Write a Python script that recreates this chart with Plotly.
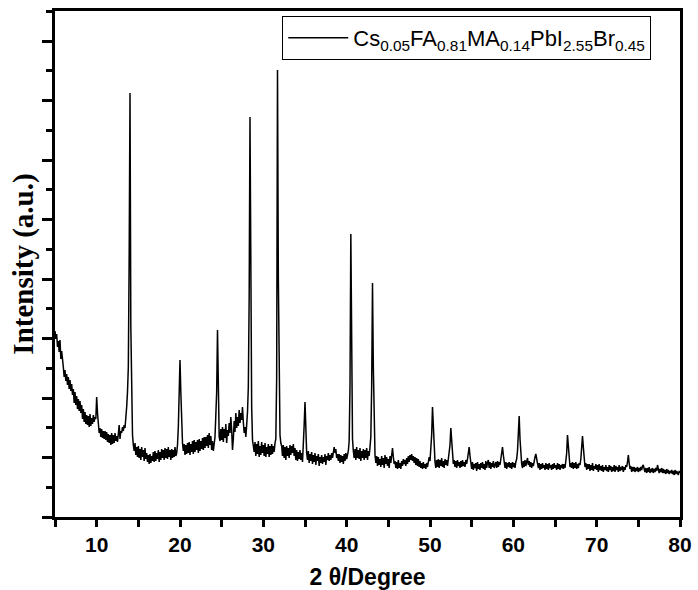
import numpy as np
import plotly.graph_objects as go

# 2-theta scan: 5.0 .. 80.0 deg, step 0.1 deg
two_theta_start = 5.0
two_theta_step = 0.1

# Intensity (a.u.), one row per degree (x.0 .. x.9)
intensity = [
    186, 178, 183, 170, 176, 165, 177, 158, 166, 152,   # 5
    150, 140, 147, 136, 143, 132, 140, 128, 137, 126,   # 6
    133, 122, 128, 114, 125, 112, 121, 108, 118, 106,   # 7
    116, 104, 112, 98, 108, 95, 105, 93, 102, 92,       # 8
    101, 90, 103, 91, 99, 93, 102, 95, 100, 98,         # 9
    120, 104, 90, 84, 89, 80, 88, 79, 86, 78,           # 10
    86, 77, 85, 75, 83, 74, 82, 72, 84, 73,             # 11
    82, 74, 84, 76, 81, 75, 83, 92, 78, 86,             # 12
    84, 90, 86, 92, 89, 97, 110, 125, 150, 260,         # 13
    424, 190, 105, 82, 72, 66, 74, 62, 70, 60,          # 14
    71, 59, 68, 57, 70, 60, 67, 56, 69, 58,             # 15
    64, 55, 62, 53, 63, 54, 61, 56, 65, 55,             # 16
    66, 56, 64, 58, 67, 55, 65, 57, 68, 59,             # 17
    67, 57, 69, 59, 68, 58, 70, 60, 67, 57,             # 18
    68, 59, 67, 60, 70, 61, 64, 72, 90, 120,            # 19
    157, 125, 88, 74, 66, 73, 62, 72, 63, 74,           # 20
    64, 75, 62, 73, 65, 76, 63, 77, 65, 75,             # 21
    67, 77, 64, 78, 66, 76, 68, 79, 67, 80,             # 22
    69, 80, 71, 82, 69, 84, 72, 81, 67, 76,             # 23
    66, 72, 80, 102, 125, 187, 115, 80, 76, 88,         # 24
    77, 90, 75, 88, 79, 93, 74, 87, 81, 94,             # 25
    84, 100, 87, 67, 78, 96, 85, 104, 89, 100,          # 26
    91, 107, 94, 104, 97, 110, 95, 84, 90, 80,          # 27
    92, 105, 130, 220, 400, 210, 110, 77, 72, 65,       # 28
    75, 61, 73, 63, 76, 60, 71, 62, 75, 64,             # 29
    72, 61, 74, 60, 70, 63, 73, 60, 71, 62,             # 30
    73, 63, 71, 65, 74, 78, 140, 447, 240, 100,         # 31
    82, 74, 71, 61, 72, 59, 70, 57, 71, 61,             # 32
    69, 59, 72, 62, 71, 64, 73, 61, 69, 57,             # 33
    67, 56, 65, 58, 67, 57, 64, 55, 70, 92,             # 34
    115, 78, 64, 57, 66, 54, 63, 56, 65, 53,            # 35
    62, 55, 64, 52, 61, 56, 63, 51, 60, 54,             # 36
    62, 53, 60, 55, 63, 52, 61, 57, 64, 56,             # 37
    62, 57, 64, 59, 66, 70, 64, 68, 59, 63,             # 38
    56, 63, 54, 62, 55, 61, 53, 63, 56, 64,             # 39
    58, 62, 66, 76, 130, 283, 160, 78, 66, 59,          # 40
    68, 57, 70, 59, 67, 58, 69, 56, 66, 59,             # 41
    68, 57, 67, 59, 69, 57, 66, 61, 70, 80,             # 42
    130, 234, 150, 74, 62, 54, 61, 51, 60, 52,          # 43
    58, 50, 61, 52, 59, 49, 62, 53, 60, 51,             # 44
    58, 49, 61, 54, 63, 69, 60, 53, 56, 49,             # 45
    55, 48, 57, 49, 54, 48, 56, 51, 58, 53,             # 46
    57, 51, 59, 53, 61, 55, 62, 57, 63, 56,             # 47
    61, 54, 60, 52, 59, 51, 58, 50, 56, 49,             # 48
    54, 48, 55, 49, 53, 48, 54, 50, 55, 60,             # 49
    56, 66, 82, 110, 84, 62, 55, 49, 57, 50,            # 50
    58, 49, 57, 51, 59, 50, 56, 49, 58, 52,             # 51
    57, 51, 58, 62, 72, 89, 74, 60, 53, 57,             # 52
    50, 56, 49, 57, 51, 55, 49, 56, 50, 57,             # 53
    51, 55, 50, 57, 53, 58, 64, 70, 61, 53,             # 54
    48, 55, 47, 53, 49, 54, 46, 55, 48, 53,             # 55
    47, 54, 49, 55, 48, 53, 47, 56, 49, 54,             # 56
    57, 49, 55, 48, 54, 50, 56, 49, 53, 55,             # 57
    49, 56, 50, 55, 52, 57, 62, 70, 62, 53,             # 58
    49, 55, 48, 54, 50, 55, 49, 54, 48, 55,             # 59
    50, 54, 49, 55, 58, 66, 80, 101, 78, 60,            # 60
    53, 49, 56, 50, 57, 51, 55, 59, 52, 56,             # 61
    50, 55, 49, 54, 51, 57, 60, 63, 58, 52,             # 62
    49, 54, 47, 53, 48, 54, 49, 52, 47, 54,             # 63
    48, 53, 47, 54, 49, 52, 47, 53, 48, 54,             # 64
    49, 52, 47, 54, 48, 53, 47, 52, 49, 53,             # 65
    48, 53, 49, 56, 64, 82, 68, 56, 50, 54,             # 66
    49, 55, 48, 54, 49, 55, 48, 53, 49, 54,             # 67
    52, 58, 66, 81, 70, 58, 50, 54, 47, 53,             # 68
    48, 53, 46, 52, 47, 54, 46, 51, 48, 53,             # 69
    47, 52, 45, 53, 47, 51, 46, 52, 45, 50,             # 70
    47, 52, 46, 50, 45, 52, 47, 51, 45, 50,             # 71
    46, 52, 45, 51, 47, 50, 45, 52, 46, 50,             # 72
    47, 51, 45, 50, 47, 52, 50, 55, 62, 54,             # 73
    48, 51, 45, 50, 46, 50, 45, 49, 46, 50,             # 74
    45, 49, 46, 50, 47, 51, 52, 48, 45, 49,             # 75
    44, 49, 45, 50, 44, 48, 45, 49, 44, 48,             # 76
    45, 49, 46, 52, 47, 44, 48, 45, 49, 44,             # 77
    48, 44, 47, 43, 48, 44, 47, 43, 46, 44,             # 78
    47, 43, 46, 42, 47, 43, 46, 44, 42, 46,             # 79
    44,                                                 # 80
]

two_theta = np.round(two_theta_start + two_theta_step * np.arange(len(intensity)), 2)

series_name = "Cs<sub>0.05</sub>FA<sub>0.81</sub>MA<sub>0.14</sub>PbI<sub>2.55</sub>Br<sub>0.45</sub>"
x_tick_values = [10, 20, 30, 40, 50, 60, 70, 80]

SANS = "Liberation Sans, Arial, sans-serif"
SERIF = "Liberation Serif, Times New Roman, serif"

fig = go.Figure()
fig.add_trace(go.Scatter(
    x=two_theta, y=intensity, mode="lines",
    line=dict(color="black", width=1.5),
    name=series_name,
))

fig.update_layout(
    width=698, height=590,
    margin=dict(l=55, r=18, t=11, b=73),
    paper_bgcolor="white", plot_bgcolor="white",
    showlegend=True,
    legend=dict(
        x=0.954, y=0.99, xanchor="right", yanchor="top",
        bordercolor="black", borderwidth=1, bgcolor="white",
        font=dict(family=SANS, size=22, color="black"),
        itemwidth=60,
        tracegroupgap=0,
    ),
)

fig.update_xaxes(
    range=[5, 80],
    automargin=False,
    tickvals=x_tick_values,
    ticks="outside", ticklen=7, tickwidth=2.5, tickcolor="black",
    minor=dict(dtick=5, tick0=5, ticks="outside", ticklen=7, tickwidth=2.5, tickcolor="black"),
    showline=True, linewidth=3, linecolor="black", mirror=True,
    showgrid=False, zeroline=False,
    tickfont=dict(family=SANS, size=21, color="black", weight="bold"),
    title=dict(text="2 θ/Degree", font=dict(family=SANS, size=23, color="black", weight="bold"), standoff=19),
)

fig.update_yaxes(
    range=[0, 506],
    automargin=False,
    tick0=0, dtick=59.5,
    ticks="outside", ticklen=10, tickwidth=2.5, tickcolor="black",
    minor=dict(dtick=29.75, tick0=0, ticks="outside", ticklen=6, tickwidth=2.5, tickcolor="black"),
    showticklabels=False,
    showline=True, linewidth=3, linecolor="black", mirror=True,
    showgrid=False, zeroline=False,
    title=dict(text="Intensity (a.u.)", font=dict(family=SERIF, size=29, color="black", weight="bold"), standoff=0),
)

fig.write_html("out.html")
